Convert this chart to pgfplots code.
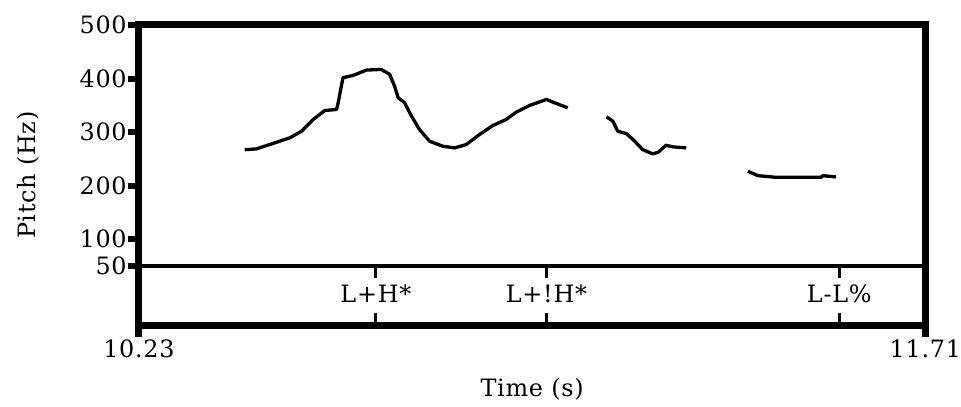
\documentclass[border=0pt]{standalone}
\usepackage{fontspec}
\setmainfont{DejaVu Serif}[LetterSpace=3]
\usepackage{pgfplots}
\pgfplotsset{compat=1.18}

\begin{document}
\begin{tikzpicture}[font=\fontsize{24}{28}\selectfont]
\begin{axis}[
    name=ax,
    scale only axis,
    clip=false,
    width=787bp, height=300.5bp,
    xmin=10.23, xmax=11.71,
    ymin=-61, ymax=500,
    axis line style={line width=7bp},
    tick pos=left,
    major tick length=0bp,
    xtick={10.23,11.71}, xticklabels={10.23,11.71},
    ytick={50,100,200,300,400,500},
    yticklabels={50,100,200,300,400,500},
    yticklabel style={anchor=east, inner sep=0pt, xshift=-12bp},
    xticklabel style={anchor=north, inner sep=0pt, yshift=-14bp},
    every axis x label/.style={at={(axis description cs:0.5,-0.2146)}, anchor=center},
    every axis y label/.style={at={(axis description cs:-0.141,0.5)}, anchor=center, rotate=90},
    xlabel={Time (s)},
    ylabel={Pitch (Hz)},
]
% pitch / tier separator
\addplot[black, line width=3.5bp] coordinates {(10.23,50) (11.71,50)};

% pitch contour, three voiced stretches
\addplot[black, line width=3.3bp, line join=round] coordinates {
    (10.429,267) (10.451,268.5) (10.476,276.6) (10.514,289.1) (10.536,301.5)
    (10.558,323.4) (10.580,340.3) (10.602,342.1) (10.605,354.7) (10.614,401.5)
    (10.633,405.8) (10.658,415.7) (10.686,417.0) (10.702,407.7) (10.711,385.8)
    (10.718,364.0) (10.730,354.7) (10.743,329.6) (10.758,304.7) (10.777,282.8)
    (10.802,273.4) (10.824,270.4) (10.846,276.6) (10.871,295.3) (10.896,312.2)
    (10.921,323.4) (10.940,337.1) (10.965,349.6) (10.997,360.9) (11.012,354.7)
    (11.037,345.3)
};
\addplot[black, line width=3.3bp, line join=round] coordinates {
    (11.110,328.5) (11.122,320.2) (11.131,301.5) (11.147,297.2) (11.160,286.0)
    (11.178,267.2) (11.197,259.2) (11.207,262.2) (11.222,275.3) (11.235,272.3)
    (11.260,270.4)
};
\addplot[black, line width=3.3bp, line join=round] coordinates {
    (11.376,226.6) (11.395,218.5) (11.429,215.4) (11.514,215.4) (11.517,218.5)
    (11.542,216.1)
};

% tone tier: point marks
\addplot[black, line width=3bp] coordinates {(10.676,50) (10.676,28)};
\addplot[black, line width=3bp] coordinates {(10.676,-61) (10.676,-38)};
\addplot[black, line width=3bp] coordinates {(10.997,50) (10.997,28)};
\addplot[black, line width=3bp] coordinates {(10.997,-61) (10.997,-38)};
\addplot[black, line width=3bp] coordinates {(11.548,50) (11.548,28)};
\addplot[black, line width=3bp] coordinates {(11.548,-61) (11.548,-38)};

\node at (axis cs:10.676,-2) {L+H*};
\node at (axis cs:10.997,-2) {L+!H*};
\node at (axis cs:11.548,-2) {L-L\%};

% heavy outward tick marks
\pgfplotsinvokeforeach{50,100,200,300,400,500}{
    \draw[black, line width=6bp] (axis cs:10.23,#1) -- ([xshift=-11bp]axis cs:10.23,#1);
}
\draw[black, line width=7bp] (axis cs:10.23,-61) -- ([yshift=-12bp]axis cs:10.23,-61);
\draw[black, line width=7bp] (axis cs:11.71,-61) -- ([yshift=-12bp]axis cs:11.71,-61);
\end{axis}
\useasboundingbox ([shift={(-139bp,-81.5bp)}]ax.south west)
    rectangle ([shift={(35bp,25bp)}]ax.north east);
\end{tikzpicture}
\end{document}
